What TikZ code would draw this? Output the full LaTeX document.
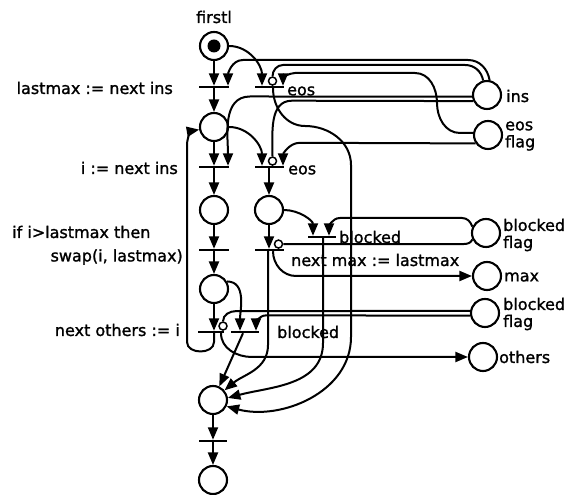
\documentclass[tikz,border=0pt]{standalone}
\usepackage{fontspec}
\setmainfont{DejaVu Sans}[FakeBold=1.3]
\usetikzlibrary{arrows.meta}
\begin{document}
\begin{tikzpicture}[x=1pt,y=1pt]
\tikzset{
 place/.style={circle,draw,line width=2.1pt,minimum size=28pt,inner sep=0pt},
 tbar/.style={rectangle,fill=black,minimum height=2pt,inner sep=0pt,minimum width=#1},
 inh/.style={circle,draw,fill=white,line width=1.5pt,minimum size=8pt,inner sep=0pt},
 arc/.style={line width=2pt},
 arr/.style={arc,-{Triangle[length=12.5pt,width=10pt]}},
 lbl/.style={inner sep=0pt,font=\fontsize{16}{17}\selectfont},
}
\useasboundingbox (0,0) rectangle (568,495);
% places
\node[place] (p0) at (214,449) {};
\fill (p0.center) circle (6.5pt);
\node[place] (p1) at (214,368) {};
\node[place] (p2) at (214,285) {};
\node[place] (p3) at (269,285) {};
\node[place] (p4) at (214,206) {};
\node[place] (pend) at (213,95) {};
\node[place] (pfin) at (213,15) {};
\node[place] (ins) at (487,400) {};
\node[place] (eosf) at (488,360) {};
\node[place] (bf1) at (486,262) {};
\node[place] (max) at (487,219) {};
\node[place] (bf2) at (485,182) {};
\node[place] (others) at (483,138) {};
% transitions
\node[tbar=30pt] (t1) at (214,408) {};
\node[tbar=29pt] (te1) at (269,408) {};
\node[tbar=30pt] (t2) at (214,328) {};
\node[tbar=29pt] (te2) at (269,328) {};
\node[tbar=30pt] (t3) at (214,245) {};
\node[tbar=29pt] (t4) at (269,245) {};
\node[tbar=28pt] (tb1) at (322,258) {};
\node[tbar=26pt] (t5) at (211,163) {};
\node[tbar=28pt] (tb2) at (245,163) {};
\node[tbar=28pt] (tend) at (213,54) {};
% inhibitor circles
\node[inh,anchor=south] (c1) at ([xshift=3.5pt]te1.north) {};
\node[inh,anchor=south] (c2) at ([xshift=3.5pt]te2.north) {};
\node[inh,anchor=south] (c4) at ([xshift=9.5pt]t4.north) {};
\node[inh,anchor=south] (c5) at ([xshift=12pt]t5.north) {};
% arcs
\draw[arr] (p0.south) -- (t1.north);
\draw[arr] (ins.80) to[out=100,in=0] (468,435) -- (243,435) to[out=180,in=90] ([xshift=14pt]t1.north);
\draw[arc] (ins.105) to[out=100,in=0] (465,430) -- (283,430) to[out=180,in=90] (c1.north);
\draw[arr] (eosf.172) -- (460,362) to[out=180,in=-90] (437,392) to[out=90,in=0] (415,422) -- (295,422) to[out=180,in=90] ([xshift=14pt]te1.north);
\draw[arr] (p0.east) to[out=0,in=90] ([xshift=-7pt]te1.north);
\draw[arr] ([xshift=4pt]te1.south) to[out=-90,in=180] (305,369) to[out=0,in=90] (351,330) -- (351,158) to[out=-90,in=-15] (pend.-25);
\draw[arr] (t1.south) -- (p1.north);
\draw[arr] (p1.south) -- (t2.north);
\draw[arr] (ins.186) -- (250,398.5) to[out=180,in=90] ([xshift=14pt]t2.north);
\draw[arc] (ins.204) -- (292,394.3) to[out=180,in=90] (c2.north);
\draw[arr] (p1.east) to[out=0,in=90] ([xshift=-7pt]te2.north);
\draw[arr] (eosf.214) -- (300,352.2) to[out=180,in=90] ([xshift=14pt]te2.north);
\draw[arr] (te2.south) -- (p3.north);
\draw[arr] (t2.south) -- (p2.north);
\draw[arr] (p2.south) -- (t3.north);
\draw[arr] (p3.south) -- (t4.north);
\draw[arr] (p3.east) to[out=0,in=90] ([xshift=-9pt]tb1.north);
\draw[arr] (bf1.155) to[out=110,in=0] (462,277) -- (340,277) to[out=180,in=90] ([xshift=7pt]tb1.north);
\draw[arc] (c4.east) -- ++(180,0) to[out=0,in=-110] (bf1.205);
\draw[arr] ([xshift=4pt]t4.south) to[out=-90,in=180] (296,219) -- (max.west);
\draw[arr] ([xshift=-1pt]t4.south) -- (268,150) to[out=-90,in=40] (pend.40);
\draw[arr] ([xshift=1pt]tb1.south) -- (323,152) to[out=-90,in=15] (pend.8);
\draw[arr] ([xshift=-2pt]tb2.south) -- (pend.65);
\draw[arr] (t3.south) -- (p4.north);
\draw[arr] (p4.south) -- (p4.south |- t5.north);
\draw[arr] (p4.30) to[out=0,in=90] ([xshift=-5pt]tb2.north);
\draw[arc] (bf2.172) -- (236,183.9) to[out=180,in=90] (c5.north);
\draw[arr] (bf2.190) -- (266,179.6) to[out=180,in=90] ([xshift=11pt]tb2.north);
\draw[arr] ([xshift=10pt]t5.south) to[out=-90,in=180] (252,138) -- (others.west);
\draw[arr] ([xshift=3pt]t5.south) -- (214,153) to[out=-90,in=-90,looseness=1.2] (187,153) -- (187,350) to[out=90,in=190] (p1.190);
\draw[arr] (pend.south) -- (tend.north);
\draw[arr] (tend.south) -- (pfin.north);
% labels
\node[lbl] (lfirst) at (214,478) {firstl};
\node[lbl,anchor=east] (l1) at (173,407) {lastmax := next ins};
\node[lbl,anchor=west] (l2) at (287,404) {eos};
\node[lbl,anchor=east] (l3) at (178,327) {i := next ins};
\node[lbl,anchor=west] (l4) at (288,325) {eos};
\node[lbl,anchor=west] (l5) at (12,263) {if i>lastmax then};
\node[lbl,anchor=east] (l6) at (183,238) {swap(i, lastmax)};
\node[lbl,anchor=west] (l7) at (339,258) {blocked};
\node[lbl,anchor=west] (l8) at (291,235) {next max := lastmax};
\node[lbl,anchor=east] (l9) at (180,165) {next others := i};
\node[lbl,anchor=west] (l10) at (277,163) {blocked};
\node[lbl,anchor=west] (l11) at (506,399) {ins};
\node[lbl,anchor=west,align=left] (l12) at (505,359) {eos\\flag};
\node[lbl,anchor=west,align=left] (l13) at (503,260) {blocked\\flag};
\node[lbl,anchor=west] (l14) at (504,218) {max};
\node[lbl,anchor=west,align=left] (l15) at (503,181) {blocked\\flag};
\node[lbl,anchor=west] (l16) at (499,138) {others};
\end{tikzpicture}
\end{document}
